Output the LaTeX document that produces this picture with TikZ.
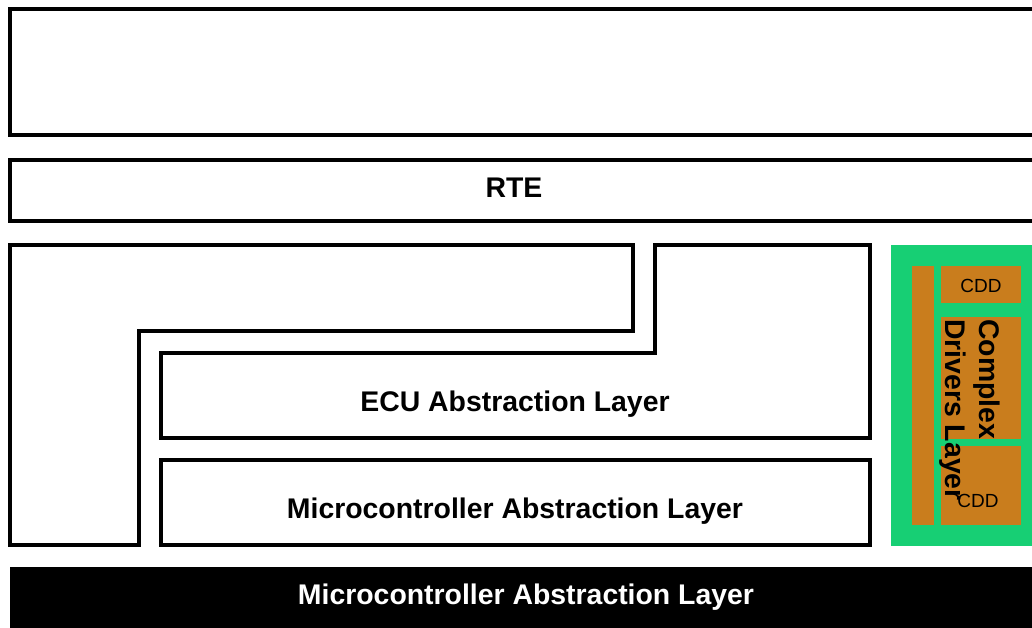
\documentclass[tikz,border=0pt]{standalone}
\usepackage{fontspec}
\setmainfont{Liberation Sans}
\definecolor{cdlgreen}{RGB}{23,207,116}
\definecolor{cddorange}{RGB}{201,125,29}
\begin{document}
\begin{tikzpicture}[x=1pt,y=-1pt,
  layer/.style={draw,line width=4pt,line join=miter},
  lbl/.style={font=\fontsize{28.4}{34}\selectfont\bfseries,inner sep=0pt},
  cddlbl/.style={font=\fontsize{19}{22}\selectfont,inner sep=0pt}]
\useasboundingbox (0,0) rectangle (1032,627);

% Application layer and RTE (open to the right)
\draw[layer] (1045,9) -- (10,9) -- (10,135) -- (1045,135);
\draw[layer] (1045,160) -- (10,160) -- (10,221) -- (1045,221);
\node[lbl,anchor=base] (rte) at (514,197) {RTE};

% Services layer
\draw[layer] (10,245) -- (633,245) -- (633,331) -- (139,331)
  -- (139,545) -- (10,545) -- cycle;

% ECU abstraction layer
\draw[layer] (655,245) -- (870,245) -- (870,438) -- (161,438)
  -- (161,353) -- (655,353) -- cycle;
\node[lbl,anchor=base] (ecu) at (515,411) {ECU Abstraction Layer};

% Microcontroller abstraction layer
\draw[layer] (161,460) rectangle (870,545);
\node[lbl,anchor=base] (mcal) at (515,518) {Microcontroller Abstraction Layer};

% Complex drivers
\fill[cdlgreen] (891,245) rectangle (1045,546);
\fill[cddorange] (912,266) rectangle (934,525);
\foreach \ytop/\ybot in {266/303,317/439,446/525}
  \fill[cddorange] (941,\ytop) rectangle (1021,\ybot);
\node[cddlbl] (cddtop) at (981,286) {CDD};
\node[cddlbl] (cddbot) at (978,501) {CDD};
\node[lbl,rotate=-90,align=left] (cdl) at (970,410) {Complex\\Drivers Layer};

% Microcontroller
\fill[black] (10,567) rectangle (1045,640);
\node[lbl,anchor=base,text=white] (mcu) at (526,604) {Microcontroller Abstraction Layer};
\end{tikzpicture}
\end{document}
